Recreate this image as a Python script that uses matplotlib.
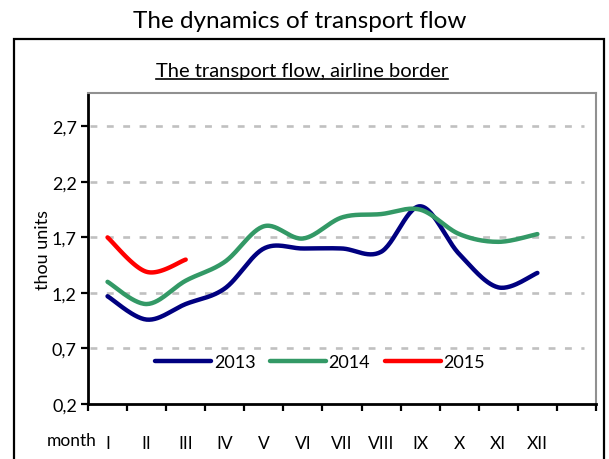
import numpy as np
import matplotlib
matplotlib.use("Agg")
import matplotlib.pyplot as plt
from matplotlib.patches import Rectangle
from matplotlib.lines import Line2D

months = ["I", "II", "III", "IV", "V", "VI", "VII", "VIII", "IX", "X", "XI", "XII"]
y2013 = [1.17, 0.96, 1.10, 1.24, 1.60, 1.60, 1.60, 1.57, 1.98, 1.55, 1.25, 1.38]
y2014 = [1.30, 1.10, 1.31, 1.48, 1.80, 1.69, 1.88, 1.91, 1.95, 1.73, 1.66, 1.73]
y2015 = [1.70, 1.39, 1.50]
yticks = [0.2, 0.7, 1.2, 1.7, 2.2, 2.7]

plt.rcParams['font.family'] = ['Lato', 'DejaVu Sans']


def smooth(xs, ys, n=30):
    xs = np.asarray(xs, float)
    ys = np.asarray(ys, float)
    P = np.column_stack([xs, ys])
    out = []
    for i in range(len(P) - 1):
        p0 = P[i - 1] if i > 0 else P[i]
        p1 = P[i]
        p2 = P[i + 1]
        p3 = P[i + 2] if i + 2 < len(P) else P[i + 1]
        c1 = p1 + (p2 - p0) / 6.0
        c2 = p2 - (p3 - p1) / 6.0
        t = np.linspace(0, 1, n)[:, None]
        seg = ((1 - t) ** 3) * p1 + 3 * ((1 - t) ** 2) * t * c1 + 3 * (1 - t) * t ** 2 * c2 + t ** 3 * p2
        out.append(seg if i == 0 else seg[1:])
    S = np.vstack(out)
    return S[:, 0], S[:, 1]


fig = plt.figure(figsize=(6.09, 4.6), dpi=100)
fig.patches.append(Rectangle((14 / 609, -0.05), (604 - 14) / 609, (460 - 40) / 460 + 0.05,
                             transform=fig.transFigure, fill=False, edgecolor='black',
                             linewidth=1.6, zorder=0))

ax = fig.add_axes([88 / 609, (460 - 405) / 460, (596 - 88) / 609, (405 - 94) / 460])
ax.set_xlim(-0.5, 12.5)
ax.set_ylim(0.2, 3.0)

for y in yticks[1:]:
    ax.plot([-0.45, 12.2], [y, y], color='#c0c0c0', lw=1.9, ls=(0, (2.6, 3.6)), zorder=1)

series = [(y2013, '#000080', '2013'), (y2014, '#339966', '2014'), (y2015, '#ff0000', '2015')]
for vals, col, lab in series:
    xs = np.arange(len(vals))
    sx, sy = smooth(xs, vals)
    ax.plot(sx, sy, color=col, lw=3.2, solid_capstyle='round', label=lab, zorder=3)

ax.set_yticks(yticks)
ax.set_yticklabels([f"{v:.1f}".replace('.', ',') for v in yticks], fontsize=13)
ax.set_xticks(np.arange(-0.5, 13, 1))
ax.set_xticklabels([])
ax.set_xticks(np.arange(len(months)), minor=True)
ax.set_xticklabels(months, minor=True, fontsize=12.5)
ax.tick_params(axis='x', which='major', direction='out', length=5, width=1.6, color='black')
ax.tick_params(axis='x', which='minor', length=0, pad=22)
ax.tick_params(axis='y', direction='out', length=5, width=1.6, color='black', pad=3)

for s in ['top', 'right']:
    ax.spines[s].set_color('#909090')
    ax.spines[s].set_linewidth(1.5)
for s in ['left', 'bottom']:
    ax.spines[s].set_color('black')
    ax.spines[s].set_linewidth(2)

ax.text(-0.27, -0.115, 'month', transform=ax.get_xaxis_transform(), fontsize=12.5,
        ha='right', va='center')
ax.text(-0.089, 0.5, 'thou units', transform=ax.transAxes, rotation=90, fontsize=13,
        ha='center', va='center')

leg = ax.legend(loc='center', bbox_to_anchor=(0.457, 0.135), ncol=3, frameon=True,
                fontsize=13, handlelength=3.1, handletextpad=0.15, columnspacing=0.8,
                borderpad=0.2)
leg.get_frame().set_edgecolor('none')
leg.get_frame().set_facecolor('white')
leg.get_frame().set_alpha(1)
leg.set_zorder(4)

fig.text(300 / 609, 1 - 22 / 460, 'The dynamics of transport flow', fontsize=17.5,
         ha='center', va='center')
sub = fig.text(302 / 609, 1 - 72 / 460, 'The transport flow, airline border', fontsize=14.5,
               ha='center', va='center')

fig.canvas.draw()
bb = sub.get_window_extent(renderer=fig.canvas.get_renderer())
inv = fig.transFigure.inverted()
(x0, y0), (x1, y1) = inv.transform([(bb.x0, bb.y0), (bb.x1, bb.y0)])
fig.lines.append(Line2D([x0, x1], [y0 + 1 / 460, y0 + 1 / 460], transform=fig.transFigure,
                        color='black', lw=1.2))

fig.savefig('out.png', dpi=100)
